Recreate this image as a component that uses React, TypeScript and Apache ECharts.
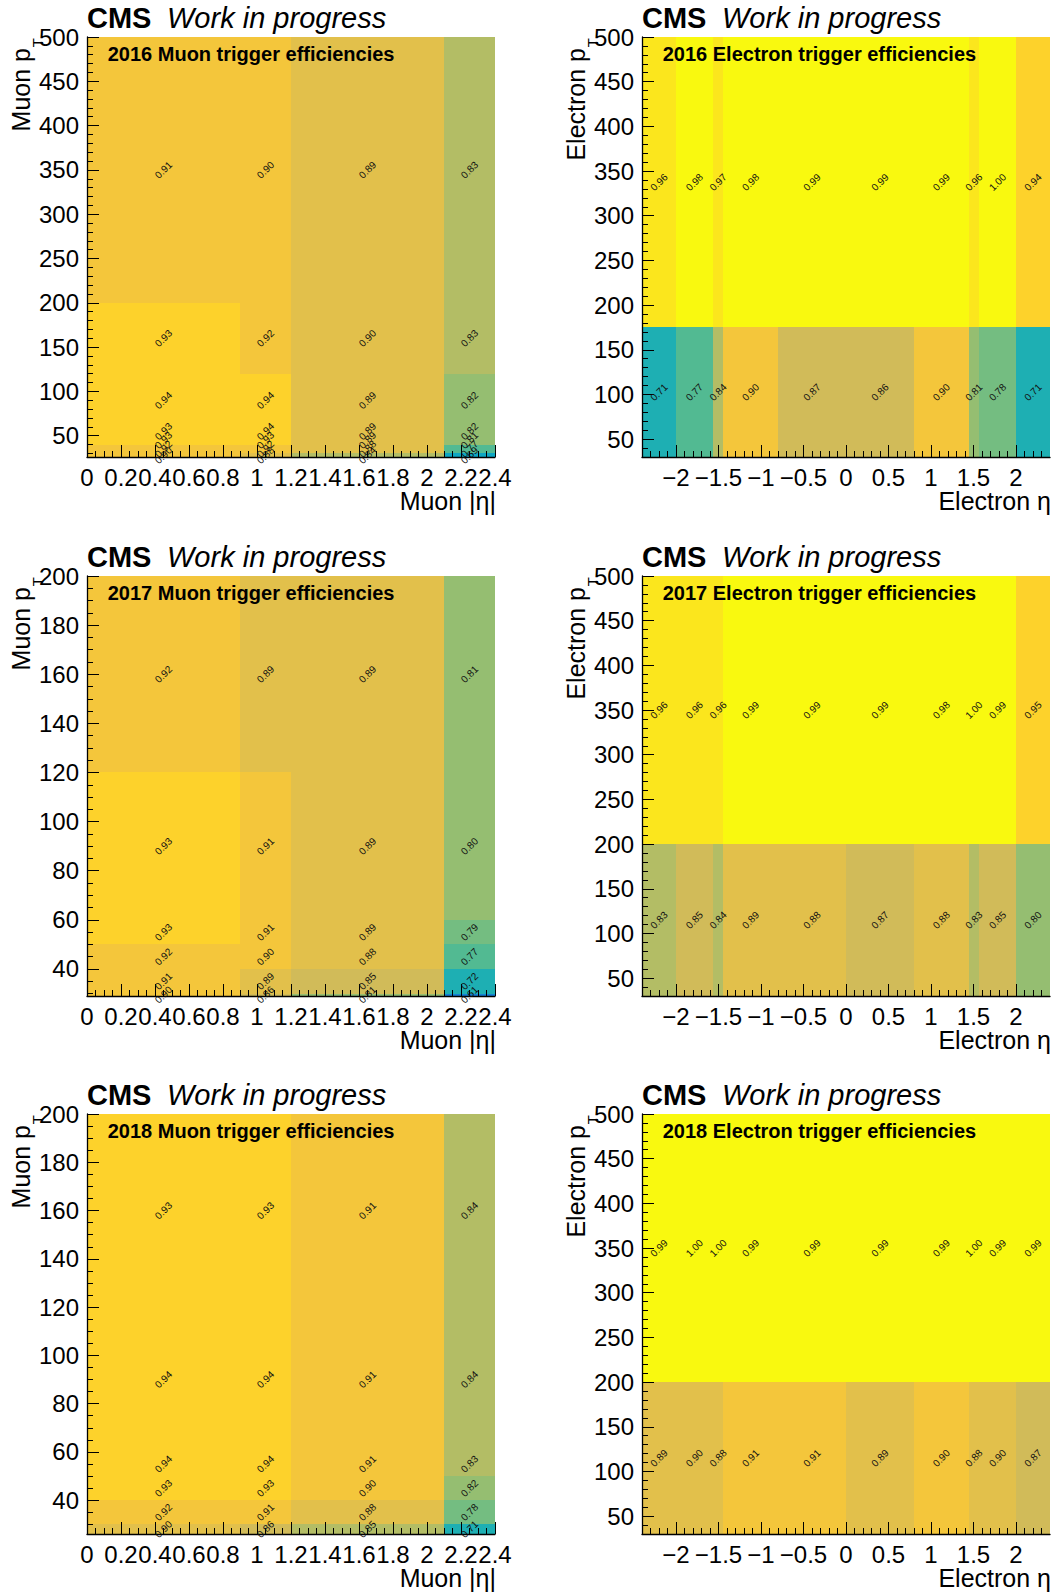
import React, { useEffect, useRef } from 'react';
import * as echarts from 'echarts';

const FONT = '"Liberation Sans", Arial, Helvetica, sans-serif';

// ---------- bin edges ----------
const muonEtaBins = [0, 0.9, 1.2, 2.1, 2.4];
const muonPt2016Bins = [26, 30, 40, 50, 60, 120, 200, 500];
const muonPt2017Bins = [29, 30, 40, 50, 60, 120, 200];
const muonPt2018Bins = [26, 30, 40, 50, 60, 120, 200];
const eleEtaBins = [-2.4, -2.0, -1.566, -1.444, -0.8, 0, 0.8, 1.444, 1.566, 2.0, 2.4];
const elePt2016Bins = [30, 175, 500];
const elePt2017Bins = [30, 200, 500];
const elePt2018Bins = [30, 200, 500];

// ---------- efficiencies (rows = pT bins from lowest, cols = eta bins) ----------
const muonEff2016 = [
  [0.90, 0.88, 0.84, 0.69],
  [0.92, 0.92, 0.88, 0.77],
  [0.93, 0.93, 0.89, 0.81],
  [0.93, 0.94, 0.89, 0.82],
  [0.94, 0.94, 0.89, 0.82],
  [0.93, 0.92, 0.899, 0.83],
  [0.91, 0.90, 0.89, 0.83],
];
const muonEff2017 = [
  [0.90, 0.86, 0.81, 0.61],
  [0.91, 0.89, 0.85, 0.72],
  [0.92, 0.90, 0.88, 0.77],
  [0.93, 0.91, 0.89, 0.79],
  [0.93, 0.91, 0.89, 0.80],
  [0.92, 0.89, 0.89, 0.81],
];
const muonEff2018 = [
  [0.899, 0.86, 0.849, 0.71],
  [0.92, 0.91, 0.88, 0.78],
  [0.93, 0.93, 0.90, 0.82],
  [0.94, 0.94, 0.91, 0.83],
  [0.94, 0.94, 0.91, 0.84],
  [0.93, 0.93, 0.91, 0.84],
];
const eleEff2016 = [
  [0.71, 0.77, 0.84, 0.90, 0.87, 0.86, 0.90, 0.81, 0.78, 0.71],
  [0.96, 0.98, 0.97, 0.98, 0.99, 0.99, 0.99, 0.96, 1.00, 0.94],
];
const eleEff2017 = [
  [0.83, 0.85, 0.84, 0.89, 0.88, 0.87, 0.88, 0.83, 0.85, 0.80],
  [0.96, 0.96, 0.96, 0.99, 0.99, 0.99, 0.98, 1.00, 0.99, 0.949],
];
const eleEff2018 = [
  [0.89, 0.899, 0.88, 0.91, 0.91, 0.89, 0.90, 0.88, 0.899, 0.87],
  [0.99, 1.00, 1.00, 0.99, 0.99, 0.99, 0.99, 1.00, 0.99, 0.99],
];

// ---------- tick labels ----------
const muonEtaTicks = [0, 0.2, 0.4, 0.6, 0.8, 1, 1.2, 1.4, 1.6, 1.8, 2, 2.2, 2.4];
const eleEtaTicks = [-2, -1.5, -1, -0.5, 0, 0.5, 1, 1.5, 2];
const pt500Ticks = [50, 100, 150, 200, 250, 300, 350, 400, 450, 500];
const pt200Ticks = [40, 60, 80, 100, 120, 140, 160, 180, 200];

function minorTicks(min: number, max: number, step: number, majors: number[]) {
  const out: number[] = [];
  const start = Math.ceil(min / step - 1e-9) * step;
  for (let v = start; v <= max + 1e-9; v += step) {
    const r = Math.round(v * 1000) / 1000;
    if (!majors.some((m) => Math.abs(m - r) < 1e-6) && r > min + 1e-6 && r < max - 1e-6) out.push(r);
  }
  return out;
}

// ---------- ROOT kBird palette, 20 contours, z in [0.5, 1.0] ----------
const birdStops = [0, 0.125, 0.25, 0.375, 0.5, 0.625, 0.75, 0.875, 1];
const birdR = [0.2082, 0.0592, 0.078, 0.0232, 0.1802, 0.5301, 0.8186, 0.9956, 0.9764];
const birdG = [0.1664, 0.3599, 0.5041, 0.6419, 0.7178, 0.7492, 0.7328, 0.7862, 0.9832];
const birdB = [0.5293, 0.8684, 0.8385, 0.7914, 0.6425, 0.4662, 0.3499, 0.1968, 0.0539];
const birdTable: string[] = [];
for (let g = 1; g < birdStops.length; g++) {
  const n = Math.floor(255 * birdStops[g]) - Math.floor(255 * birdStops[g - 1]);
  for (let c = 0; c < n; c++) {
    const f = c / n;
    const r = Math.round(255 * (birdR[g - 1] + f * (birdR[g] - birdR[g - 1])));
    const gg = Math.round(255 * (birdG[g - 1] + f * (birdG[g] - birdG[g - 1])));
    const b = Math.round(255 * (birdB[g - 1] + f * (birdB[g] - birdB[g - 1])));
    birdTable.push(`rgb(${r},${gg},${b})`);
  }
}
function birdColor(v: number) {
  const zmin = 0.5, zmax = 1.0, ndiv = 20;
  let k = Math.floor(0.01 + (v - zmin) * ndiv / (zmax - zmin));
  k = Math.max(0, Math.min(ndiv - 1, k));
  const idx = Math.min(254, Math.floor((k + 0.99) * 255 / ndiv));
  return birdTable[idx];
}

// ---------- layout ----------
const COL_LEFT = [87, 642];
const ROW_TOP = [37, 576, 1114];
const W = 408;
const H = 420;

type Panel = {
  year: string; kind: 'Muon' | 'Electron';
  xBins: number[]; yBins: number[]; eff: number[][];
  xMajor: number[]; xMinorStep: number;
  yMajor: number[]; yMinorStep: number;
  col: number; row: number;
};

const panels: Panel[] = [
  { year: '2016', kind: 'Muon', xBins: muonEtaBins, yBins: muonPt2016Bins, eff: muonEff2016, xMajor: muonEtaTicks, xMinorStep: 0.05, yMajor: pt500Ticks, yMinorStep: 10, col: 0, row: 0 },
  { year: '2016', kind: 'Electron', xBins: eleEtaBins, yBins: elePt2016Bins, eff: eleEff2016, xMajor: eleEtaTicks, xMinorStep: 0.1, yMajor: pt500Ticks, yMinorStep: 10, col: 1, row: 0 },
  { year: '2017', kind: 'Muon', xBins: muonEtaBins, yBins: muonPt2017Bins, eff: muonEff2017, xMajor: muonEtaTicks, xMinorStep: 0.05, yMajor: pt200Ticks, yMinorStep: 5, col: 0, row: 1 },
  { year: '2017', kind: 'Electron', xBins: eleEtaBins, yBins: elePt2017Bins, eff: eleEff2017, xMajor: eleEtaTicks, xMinorStep: 0.1, yMajor: pt500Ticks, yMinorStep: 10, col: 1, row: 1 },
  { year: '2018', kind: 'Muon', xBins: muonEtaBins, yBins: muonPt2018Bins, eff: muonEff2018, xMajor: muonEtaTicks, xMinorStep: 0.05, yMajor: pt200Ticks, yMinorStep: 5, col: 0, row: 2 },
  { year: '2018', kind: 'Electron', xBins: eleEtaBins, yBins: elePt2018Bins, eff: eleEff2018, xMajor: eleEtaTicks, xMinorStep: 0.1, yMajor: pt500Ticks, yMinorStep: 10, col: 1, row: 2 },
];

function fmtTick(v: number) {
  const r = Math.round(v * 10) / 10;
  const s = String(Math.abs(r));
  return r < 0 ? '\u2212' + s : s;
}

function buildOption() {
  const grid: any[] = [];
  const xAxis: any[] = [];
  const yAxis: any[] = [];
  const series: any[] = [];
  const graphic: any[] = [];

  panels.forEach((p, i) => {
    const left = COL_LEFT[p.col];
    const top = ROW_TOP[p.row];
    grid.push({ left, top, width: W, height: H, containLabel: false, outerBoundsMode: 'none' });
    const xMin = p.xBins[0], xMax = p.xBins[p.xBins.length - 1];
    const yMin = p.yBins[0], yMax = p.yBins[p.yBins.length - 1];
    const axisCommon = { type: 'value', gridIndex: i, z: 10, splitLine: { show: false }, minorTick: { show: false }, minorSplitLine: { show: false } };
    xAxis.push({
      ...axisCommon, min: xMin, max: xMax, position: 'bottom',
      axisLine: { show: true, onZero: false, lineStyle: { color: '#000', width: 1.3 } },
      axisTick: { show: true, inside: true, length: 12, customValues: p.xMajor, lineStyle: { color: '#000', width: 1 } },
      axisLabel: { show: true, customValues: p.xMajor, formatter: (v: number) => fmtTick(v), fontSize: 24, fontFamily: FONT, color: '#000', margin: 8, hideOverlap: false },
    });
    xAxis.push({
      ...axisCommon, min: xMin, max: xMax, position: 'bottom',
      axisLine: { show: false, onZero: false },
      axisTick: { show: true, inside: true, length: 6, customValues: minorTicks(xMin, xMax, p.xMinorStep, p.xMajor), lineStyle: { color: '#000', width: 1 } },
      axisLabel: { show: false },
    });
    yAxis.push({
      ...axisCommon, min: yMin, max: yMax, position: 'left',
      axisLine: { show: true, onZero: false, lineStyle: { color: '#000', width: 1.3 } },
      axisTick: { show: true, inside: true, length: 12, customValues: p.yMajor, lineStyle: { color: '#000', width: 1 } },
      axisLabel: { show: true, customValues: p.yMajor, formatter: (v: number) => String(v), fontSize: 24, fontFamily: FONT, color: '#000', margin: 8, hideOverlap: false },
    });
    yAxis.push({
      ...axisCommon, min: yMin, max: yMax, position: 'left',
      axisLine: { show: false, onZero: false },
      axisTick: { show: true, inside: true, length: 6, customValues: minorTicks(yMin, yMax, p.yMinorStep, p.yMajor), lineStyle: { color: '#000', width: 1 } },
      axisLabel: { show: false },
    });

    const cells: number[][] = [];
    for (let r = 0; r < p.yBins.length - 1; r++) {
      for (let c = 0; c < p.xBins.length - 1; c++) {
        cells.push([p.xBins[c], p.xBins[c + 1], p.yBins[r], p.yBins[r + 1], p.eff[r][c]]);
      }
    }
    series.push({
      type: 'custom', xAxisIndex: 2 * i, yAxisIndex: 2 * i, z: 2, silent: true,
      encode: { x: [0, 1], y: [2, 3] },
      data: cells,
      renderItem: (_params: any, api: any) => {
        const a = api.coord([api.value(0), api.value(3)]);
        const b = api.coord([api.value(1), api.value(2)]);
        const x0 = Math.round(a[0]), y0 = Math.round(a[1]);
        const x1 = Math.round(b[0]), y1 = Math.round(b[1]);
        const col = birdColor(api.value(4));
        return {
          type: 'rect',
          shape: { x: x0, y: y0, width: x1 - x0, height: y1 - y0 },
          style: { fill: col },
        };
      },
    });
    series.push({
      type: 'custom', xAxisIndex: 2 * i, yAxisIndex: 2 * i, z: 20, silent: true,
      encode: { x: [0, 1], y: [2, 3] },
      data: cells,
      renderItem: (_params: any, api: any) => {
        const c = api.coord([(api.value(0) + api.value(1)) / 2, (api.value(2) + api.value(3)) / 2]);
        return {
          type: 'text', x: c[0], y: c[1], rotation: Math.PI / 4,
          style: { text: Number(api.value(4)).toFixed(2), fontSize: 10, fontFamily: FONT, fill: '#111', align: 'center', verticalAlign: 'middle' },
        };
      },
    });

    // texts
    graphic.push({ type: 'text', x: left, y: top - 19, style: { text: 'CMS', font: `bold 29px ${FONT}`, fill: '#000', align: 'left', verticalAlign: 'middle' } });
    graphic.push({ type: 'text', x: left + 80, y: top - 19, style: { text: 'Work in progress', font: `italic 29px ${FONT}`, fill: '#000', align: 'left', verticalAlign: 'middle' } });
    graphic.push({ type: 'text', x: left + 20.7, y: top + 17, z: 30, style: { text: `${p.year} ${p.kind} trigger efficiencies`, font: `bold 20px ${FONT}`, fill: '#000', align: 'left', verticalAlign: 'middle' } });
    graphic.push({ type: 'text', x: left - 66.3, y: top + 11, rotation: Math.PI / 2, style: { text: `${p.kind} p`, font: `25px ${FONT}`, fill: '#000', align: 'right', verticalAlign: 'middle' } });
    graphic.push({ type: 'text', x: left - 49.7, y: top + 1, rotation: Math.PI / 2, style: { text: 'T', font: `15px ${FONT}`, fill: '#000', align: 'right', verticalAlign: 'middle' } });
    graphic.push({ type: 'text', x: left + 409, y: top + 464, style: { text: p.kind === 'Muon' ? 'Muon |\u03b7|' : 'Electron \u03b7', font: `25px ${FONT}`, fill: '#000', align: 'right', verticalAlign: 'middle' } });
  });

  return { animation: false, backgroundColor: '#fff', grid, xAxis, yAxis, series, graphic };
}

export default function App() {
  const ref = useRef<HTMLDivElement>(null);
  useEffect(() => {
    if (!ref.current) return;
    const chart = echarts.init(ref.current, null, { renderer: 'svg', width: 1057, height: 1593 });
    chart.setOption(buildOption() as any);
    return () => chart.dispose();
  }, []);
  return <div ref={ref} style={{ position: 'absolute', left: 0, top: 0, width: 1057, height: 1593, background: '#fff' }} />;
}
